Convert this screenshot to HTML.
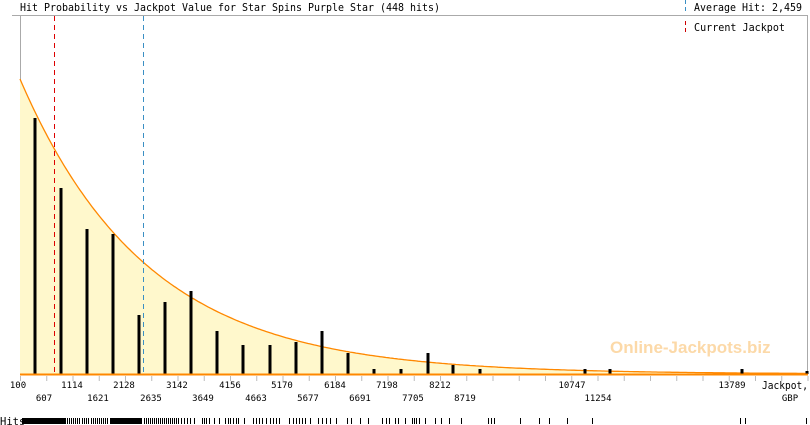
<!DOCTYPE html>
<html><head><meta charset="utf-8"><style>
body{margin:0;background:#fff;width:810px;height:425px;overflow:hidden}
svg{display:block;font-family:"DejaVu Sans Mono","Liberation Mono",monospace}
</style></head><body>
<svg width="810" height="425" viewBox="0 0 810 425" xmlns="http://www.w3.org/2000/svg">
<text x="20" y="11" font-size="10.5" fill="#000" textLength="420" lengthAdjust="spacingAndGlyphs">Hit Probability vs Jackpot Value for Star Spins Purple Star (448 hits)</text>
<line x1="685.5" y1="0" x2="685.5" y2="11" stroke="#3a8fc4" stroke-dasharray="4,3"/>
<text x="694" y="11" font-size="10.5" fill="#000" textLength="108" lengthAdjust="spacingAndGlyphs">Average Hit: 2,459</text>
<line x1="12" y1="15.5" x2="808" y2="15.5" stroke="#aaa"/>
<line x1="807.5" y1="15" x2="807.5" y2="374" stroke="#aaa"/>
<line x1="20.5" y1="15" x2="20.5" y2="374" stroke="#aaa"/>
<line x1="685.5" y1="21" x2="685.5" y2="33" stroke="#c00" stroke-dasharray="4,3"/>
<text x="694" y="31" font-size="10.5" fill="#000" textLength="91" lengthAdjust="spacingAndGlyphs">Current Jackpot</text>
<path id="c" d="" fill="#fff8cc" stroke="none"/>
<path id="cl" d="" fill="none" stroke="#f80" stroke-width="1.3"/>
<line x1="54.5" y1="16" x2="54.5" y2="374" stroke="#d00" stroke-dasharray="5,4"/>
<line x1="143.5" y1="16" x2="143.5" y2="374" stroke="#3a8fc4" stroke-dasharray="5,4"/>
<text x="610" y="353" font-size="17" font-weight="bold" fill="#fcd9a8" font-family="Liberation Sans, sans-serif">Online-Jackpots.biz</text>
<g id="bars" fill="#000"></g>
<line x1="20" y1="374.5" x2="808" y2="374.5" stroke="#f80" stroke-width="2"/>
<g id="ticks" stroke="#bbb"></g>
<g font-size="9" text-anchor="middle" fill="#000">
<text x="18" y="388">100</text><text x="72" y="388">1114</text><text x="124" y="388">2128</text><text x="177" y="388">3142</text><text x="230" y="388">4156</text><text x="282" y="388">5170</text><text x="335" y="388">6184</text><text x="387" y="388">7198</text><text x="440" y="388">8212</text><text x="572" y="388">10747</text><text x="732" y="388">13789</text>
<text x="44" y="401">607</text><text x="98" y="401">1621</text><text x="151" y="401">2635</text><text x="203" y="401">3649</text><text x="256" y="401">4663</text><text x="308" y="401">5677</text><text x="360" y="401">6691</text><text x="413" y="401">7705</text><text x="465" y="401">8719</text><text x="598" y="401">11254</text><text x="790" y="401">GBP</text>
</g>
<text x="762" y="389" font-size="10.5" fill="#000" textLength="46" lengthAdjust="spacingAndGlyphs">Jackpot,</text>
<text x="0" y="425" font-size="10.5" fill="#000">Hits</text>
<g id="hits" fill="#000"></g>
</svg>
<script>
var ns="http://www.w3.org/2000/svg";
var d="M20,374",dl="";
for(var x=20;x<=808;x+=2){var y=374-295*Math.exp(-(x-20)/127);d+=" L"+x+","+y.toFixed(1);dl+=(dl?" L":"M")+x+","+y.toFixed(1);}
d+=" L808,374 Z";
document.getElementById("c").setAttribute("d",d);
document.getElementById("cl").setAttribute("d",dl);
var bars=[[35,118],[61,188],[87,229],[113,234],[139,315],[165,302],[191,291],[217,331],[243,345],[270,345],[296,342],[322,331],[348,353],[374,369],[401,369],[428,353],[453,365],[480,369],[585,369],[610,369],[742,369],[807,371]];
var g=document.getElementById("bars");
bars.forEach(function(b){var r=document.createElementNS(ns,"rect");r.setAttribute("x",b[0]-1.5);r.setAttribute("y",b[1]);r.setAttribute("width",3);r.setAttribute("height",374-b[1]);g.appendChild(r);});
var t=document.getElementById("ticks");
for(var i=0;i<=30;i++){var x=20+i*26.25;if(x>808)break;var l=document.createElementNS(ns,"line");l.setAttribute("x1",x+0.5);l.setAttribute("x2",x+0.5);l.setAttribute("y1",376);l.setAttribute("y2",381);t.appendChild(l);}
var h=document.getElementById("hits");
function rc(x,w){var r=document.createElementNS(ns,"rect");r.setAttribute("x",x);r.setAttribute("y",418);r.setAttribute("width",w);r.setAttribute("height",6);h.appendChild(r);}
rc(22,44);rc(110,32);
var xs=[67,69,71,73,75,77,79,82,84,86,88,91,93,95,97,99,101,103,105,107,144,146,148,150,152,154,156,158,160,162,164,166,168,170,172,174,176,178,181,184,187,190,194,202,204,206,209,214,219,225,228,230,233,236,238,244,253,256,259,262,266,270,273,276,279,289,293,296,299,302,305,310,318,322,326,330,336,347,351,360,368,382,386,389,395,398,405,412,414,416,419,425,435,441,449,461,488,491,494,520,539,549,567,592,740,745,806];
xs.forEach(function(x){rc(x,1);});
</script>
</body></html>
